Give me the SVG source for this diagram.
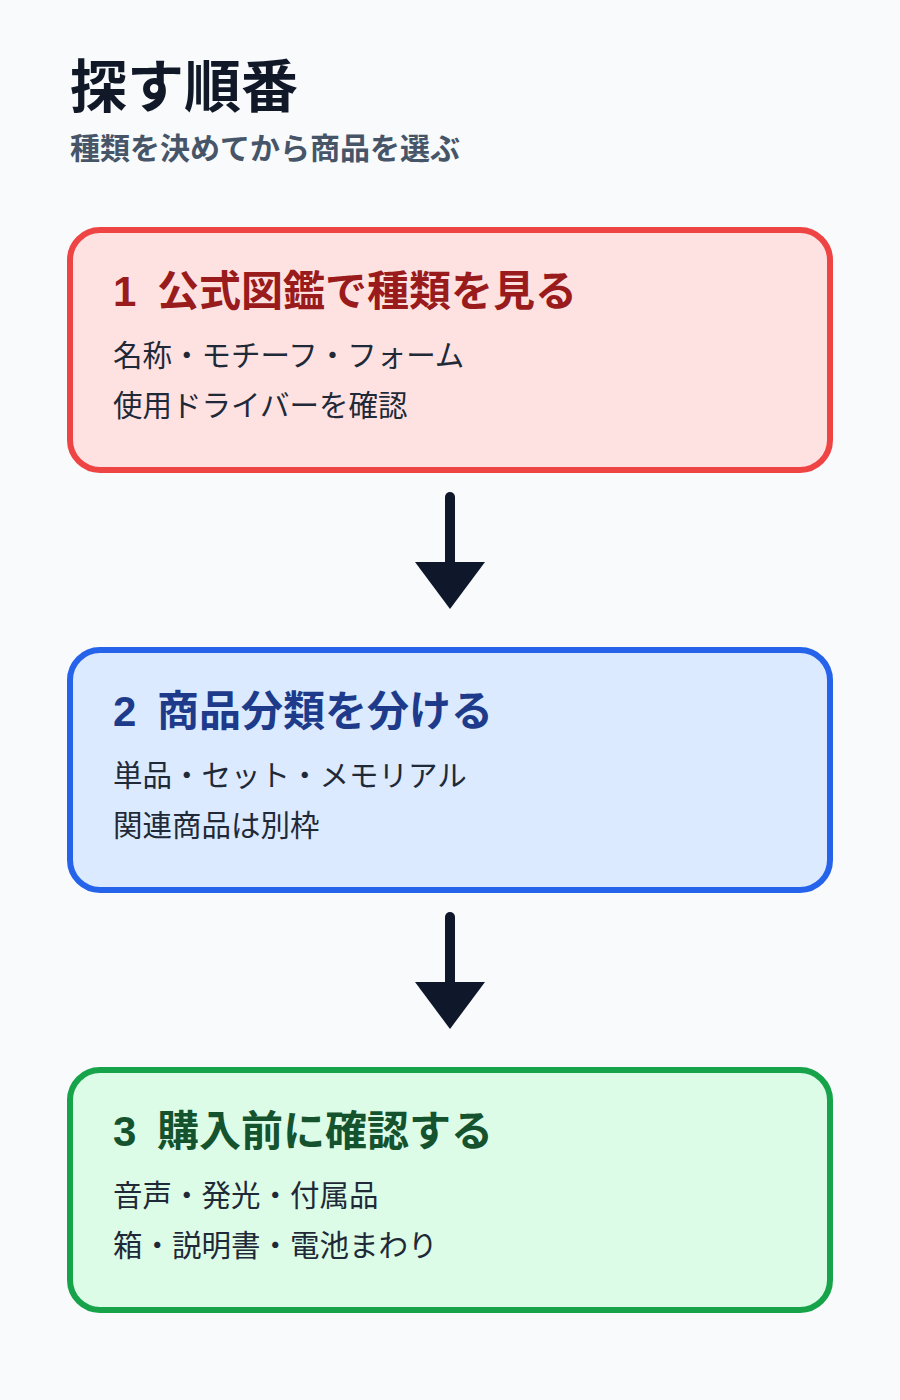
<svg xmlns="http://www.w3.org/2000/svg" width="900" height="1400" viewBox="0 0 900 1400">
<style>
text{font-family:"Noto Sans CJK JP","Noto Sans",sans-serif}
.title{font-size:57px;font-weight:700;fill:#111827}
.sub{font-size:30px;font-weight:700;fill:#475569}
.box{stroke-width:6}
.head{font-size:42px;font-weight:700}
.num{font-family:"Liberation Sans",Arial,sans-serif}
.body{font-size:29.5px;fill:#1f2937}
.conn{stroke:#0f172a;stroke-width:10;stroke-linecap:round;fill:none}
.tip{fill:#0f172a}
</style>
<rect width="900" height="1400" fill="#f8fafc"/>
<g id="header">
<text class="title" x="70" y="107">探す順番</text>
<text class="sub" x="70" y="159">種類を決めてから商品を選ぶ</text>
</g>
<g id="step1">
<rect class="box" x="70" y="230" width="760" height="240" rx="30" fill="#fee2e2" stroke="#ef4444"/>
<text class="head" x="113" y="306" fill="#991b1b"><tspan class="num">1</tspan> <tspan x="157">公式図鑑で種類を見る</tspan></text>
<text class="body" x="113" y="366">名称・モチーフ・フォーム</text>
<text class="body" x="113" y="416">使用ドライバーを確認</text>
</g>
<g id="step2">
<rect class="box" x="70" y="650" width="760" height="240" rx="30" fill="#dbeafe" stroke="#2563eb"/>
<text class="head" x="113" y="726" fill="#1e3a8a"><tspan class="num">2</tspan> <tspan x="157">商品分類を分ける</tspan></text>
<text class="body" x="113" y="786">単品・セット・メモリアル</text>
<text class="body" x="113" y="836">関連商品は別枠</text>
</g>
<g id="step3">
<rect class="box" x="70" y="1070" width="760" height="240" rx="30" fill="#dcfce7" stroke="#16a34a"/>
<text class="head" x="113" y="1146" fill="#14532d"><tspan class="num">3</tspan> <tspan x="157">購入前に確認する</tspan></text>
<text class="body" x="113" y="1206">音声・発光・付属品</text>
<text class="body" x="113" y="1256">箱・説明書・電池まわり</text>
</g>
<g id="connectors">
<line class="conn" x1="450" y1="497" x2="450" y2="566"/>
<polygon class="tip" points="415,562 485,562 450,609"/>
<line class="conn" x1="450" y1="917" x2="450" y2="986"/>
<polygon class="tip" points="415,982 485,982 450,1029"/>
</g>
</svg>
